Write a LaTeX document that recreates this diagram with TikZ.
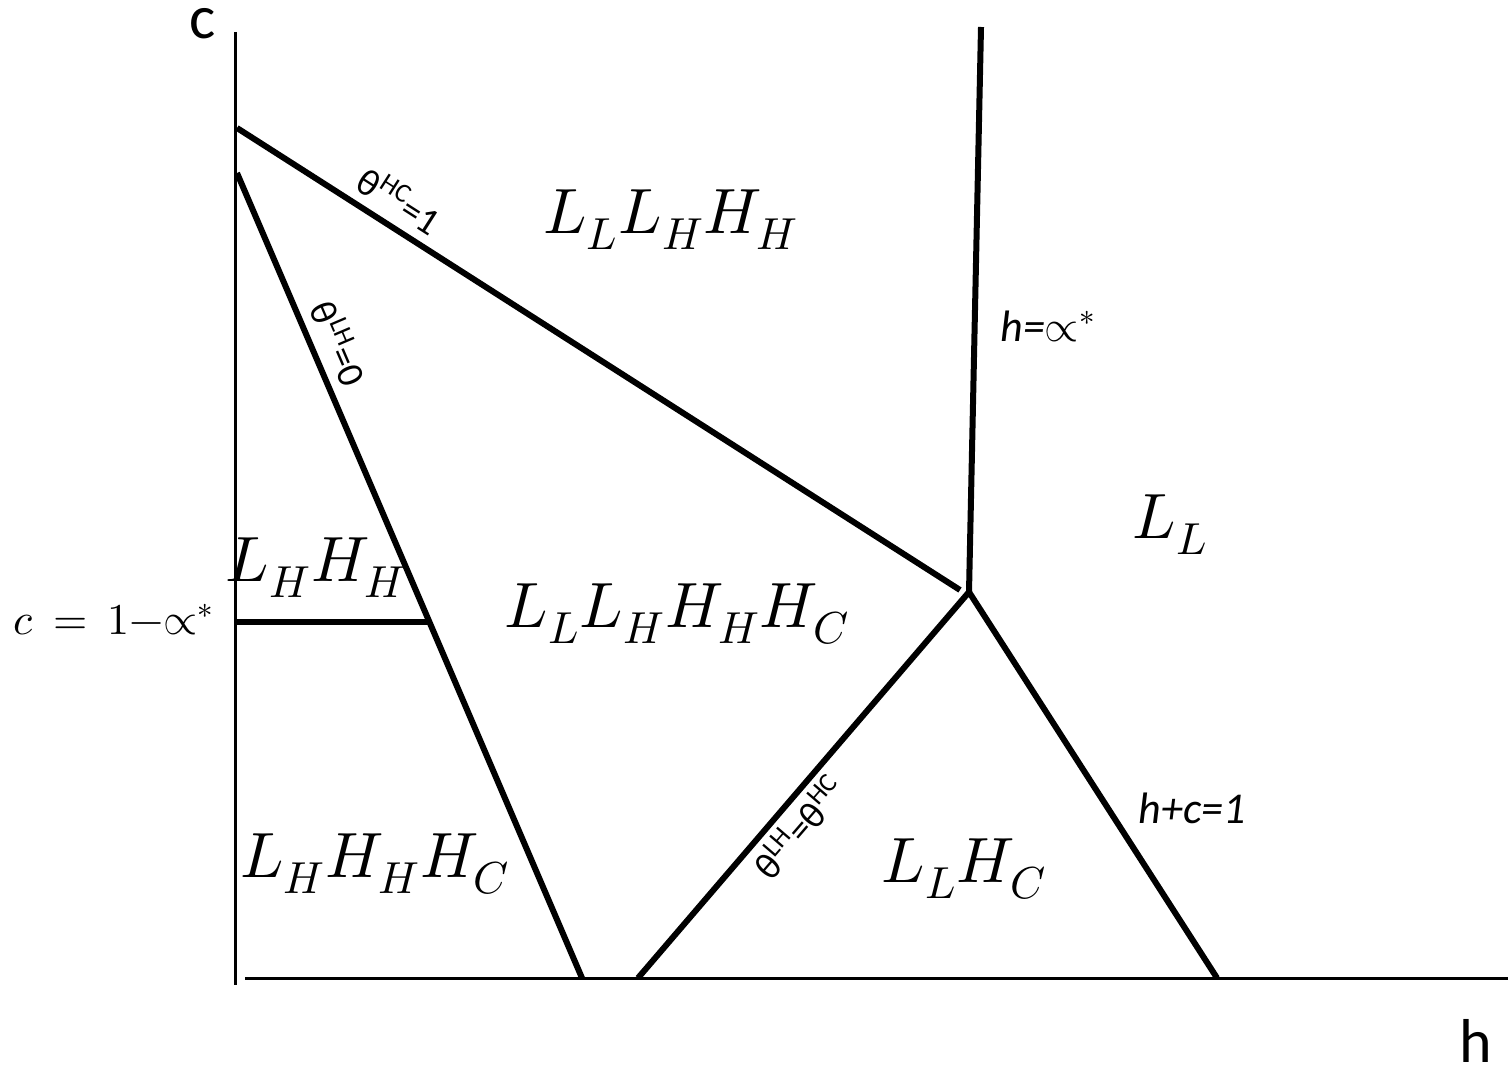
\documentclass[tikz,border=0pt]{standalone}
\usepackage{fontspec}
\usepackage{unicode-math}
\setmainfont{Carlito}
\setmathfont{Latin Modern Math}
\begin{document}
\begin{tikzpicture}[x=0.5pt,y=-0.5pt,
  axis/.style={line width=1.5pt},
  bound/.style={line width=3pt},
  region/.style={font=\fontsize{32}{35}\selectfont},
  lab/.style={font=\fontsize{19}{22}\selectfont, inner sep=1pt},
  axlab/.style={font=\fontsize{31}{34}\selectfont, inner sep=0pt}]
\useasboundingbox (0,0) rectangle (1508,1069);
% axes
\coordinate (ytop) at (235,32);
\coordinate (ybot) at (235,985);
\coordinate (xl) at (245,978);
\coordinate (xr) at (1508,978);
\draw[axis] (ytop) -- (ybot);
\draw[axis] (xl) -- (xr);
% boundary points
\coordinate (a1) at (237,128);
\coordinate (a2) at (960,590);
\coordinate (b1) at (237,173);
\coordinate (b2) at (582,978);
\coordinate (c1) at (237,622);
\coordinate (c2) at (430,622);
\coordinate (v1) at (981,27);
\coordinate (P) at (969,592);
\coordinate (d1) at (638,978);
\coordinate (e2) at (1217,978);
\draw[bound] (a1) -- (a2);
\draw[bound] (b1) -- (b2);
\draw[bound] (c1) -- (c2);
\draw[bound] (v1) -- (P);
\draw[bound] (d1) -- (P) -- (e2);
% region labels
\node[region] (r1) at (671,220) {$L_L L_H H_H$};
\node[region] (r2) at (1170,525) {$L_L$};
\node[region] (r3) at (316,568) {$L_H H_H$};
\node[region] (r4) at (677,614) {$L_L L_H H_H H_C$};
\node[region] (r5) at (375,864) {$L_H H_H H_C$};
\node[region] (r6) at (964,869) {$L_L H_C$};
% line labels
\node[lab, rotate=-32.6] (l1) at (400,200) {θ\textsuperscript{HC}=1};
\node[lab, rotate=-66.8] (l2) at (340,343) {θ\textsuperscript{LH}=0};
\node[lab, rotate=49.3] (l3) at (799,827) {θ\textsuperscript{LH}=θ\textsuperscript{HC}};
\node[lab, font=\fontsize{22}{24}\selectfont\itshape] (l4) at (1048,326) {h=$\propto^{*}$};
\node[lab, font=\fontsize{22}{24}\selectfont\itshape] (l5) at (1192,808) {h+c=1};
\node[lab, font=\fontsize{22}{24}\selectfont] (l6) at (114,620) {$c\,=\,1{-}{\propto}^{*}$};
% axis labels
\node[axlab] (yl) at (203,24) {c};
\node[axlab] (xlab) at (1476,1041) {h};
\end{tikzpicture}
\end{document}
